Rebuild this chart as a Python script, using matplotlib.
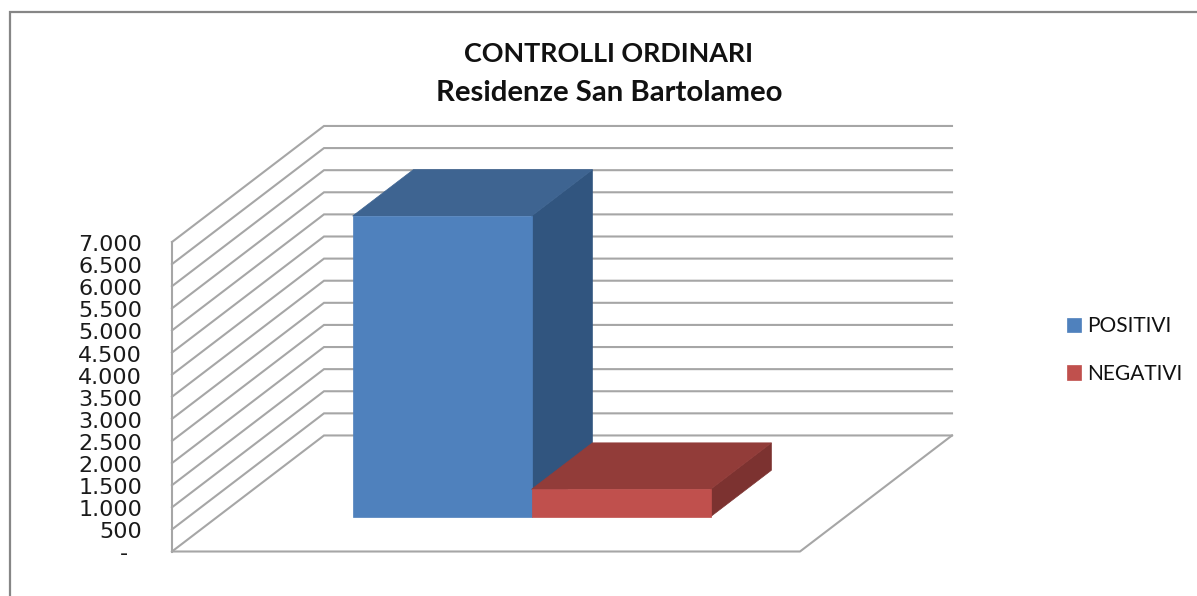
import matplotlib
matplotlib.use("Agg")
import matplotlib.pyplot as plt
from matplotlib.lines import Line2D
from matplotlib.patches import Patch
from matplotlib.transforms import ScaledTranslation

W, H = 1197, 596

title_lines = ["CONTROLLI ORDINARI", "Residenze San Bartolameo"]
series_names = ["POSITIVI", "NEGATIVI"]
series_values = [6800, 620]
tick_values = [0, 500, 1000, 1500, 2000, 2500, 3000, 3500, 4000, 4500, 5000, 5500, 6000, 6500, 7000]
tick_labels = ["-  ", "500", "1.000", "1.500", "2.000", "2.500", "3.000", "3.500",
               "4.000", "4.500", "5.000", "5.500", "6.000", "6.500", "7.000"]
front_colors = ["#4F81BD", "#C0504D"]
top_colors = ["#3E6491", "#923C39"]
side_colors = ["#31557F", "#7C3230"]

GRID = "#A6A6A6"
BAR_WIDTH = 0.57
BAR_START = 0.43
DEPTH_X = 152 / 314        # data-x shift over the whole floor depth
DEPTH_Y = 116 / 44.2 * 1000  # data-y shift over the whole floor depth
D_FRONT, D_BACK = 0.30, 0.70

fig = plt.figure(figsize=(W / 100, H / 100), dpi=100, facecolor="white")
ax = fig.add_axes([172 / W, (H - 551.5) / H, 628 / W, 309.5 / H])
ax.set_xlim(0, 2)
ax.set_ylim(0, 7000)
ax.patch.set_alpha(0)
for s in ax.spines.values():
    s.set_visible(False)
ax.set_xticks([])
ax.set_yticks(tick_values)
ax.set_yticklabels(tick_labels, fontfamily="DejaVu Sans", fontsize=16.0, color="#1A1A1A")
ax.tick_params(axis="y", length=0, pad=21.5)
shift = ScaledTranslation(0, -3.0 / 100, fig.dpi_scale_trans)
for tick in ax.yaxis.get_major_ticks():
    tick.label1.set_verticalalignment("center")
    tick.label1.set_transform(tick.label1.get_transform() + shift)


def P(x, v, d):
    return x + d * DEPTH_X, v + d * DEPTH_Y


def poly(points, color, z):
    xs, ys = zip(*points)
    ax.fill(xs, ys, facecolor=color, edgecolor=color, lw=0.5, zorder=z, clip_on=False)


# wall and floor lines
lw = 1.5
for v in tick_values:
    a, b, c = P(0, v, 0), P(0, v, 1), P(2, v, 1)
    ax.plot([a[0], b[0], c[0]], [a[1], b[1], c[1]], color=GRID, lw=lw, zorder=1,
            clip_on=False, solid_joinstyle="miter")
ax.plot([0, 0], [0, 7000], color=GRID, lw=lw, zorder=1, clip_on=False)
e = P(2, 0, 1)
ax.plot([0, 2, e[0]], [0, 0, e[1]], color=GRID, lw=lw, zorder=1, clip_on=False)

# bars
for i, val in enumerate(series_values):
    x0 = BAR_START + i * BAR_WIDTH
    x1 = x0 + BAR_WIDTH
    z = 2 + i
    poly([P(x1, 0, D_FRONT), P(x1, 0, D_BACK), P(x1, val, D_BACK), P(x1, val, D_FRONT)], side_colors[i], z)
    poly([P(x0, val, D_FRONT), P(x1, val, D_FRONT), P(x1, val, D_BACK), P(x0, val, D_BACK)], top_colors[i], z)
    poly([P(x0, 0, D_FRONT), P(x1, 0, D_FRONT), P(x1, val, D_FRONT), P(x0, val, D_FRONT)], front_colors[i], z + 0.5)

# title
fig.text(609 / W, 1 - 54 / H, title_lines[0], ha="center", va="center",
         fontfamily="Lato", fontweight="bold", fontsize=19.4, color="#111111")
fig.text(609 / W, 1 - 93 / H, title_lines[1], ha="center", va="center",
         fontfamily="Lato", fontweight="bold", fontsize=21.2, color="#111111")

# legend
handles = [Patch(facecolor=c, edgecolor=c, lw=0.5) for c in front_colors]
fig.legend(handles, series_names, loc="center left", bbox_to_anchor=(1060.5 / W, 1 - 350 / H),
           frameon=False, prop={"family": "Lato", "size": 15}, handlelength=0.67, handleheight=0.67,
           handletextpad=0.33, labelspacing=1.32, borderpad=0.3, borderaxespad=0, labelcolor="#111111")

# outer chart border, running off the right and bottom of the picture
fig.add_artist(Line2D([9.5 / W, 9.5 / W, 1], [0, 1 - 12.3 / H, 1 - 12.3 / H], color="#868686", lw=1.6,
                      solid_joinstyle="miter"))

fig.savefig("out.png", dpi=100)
